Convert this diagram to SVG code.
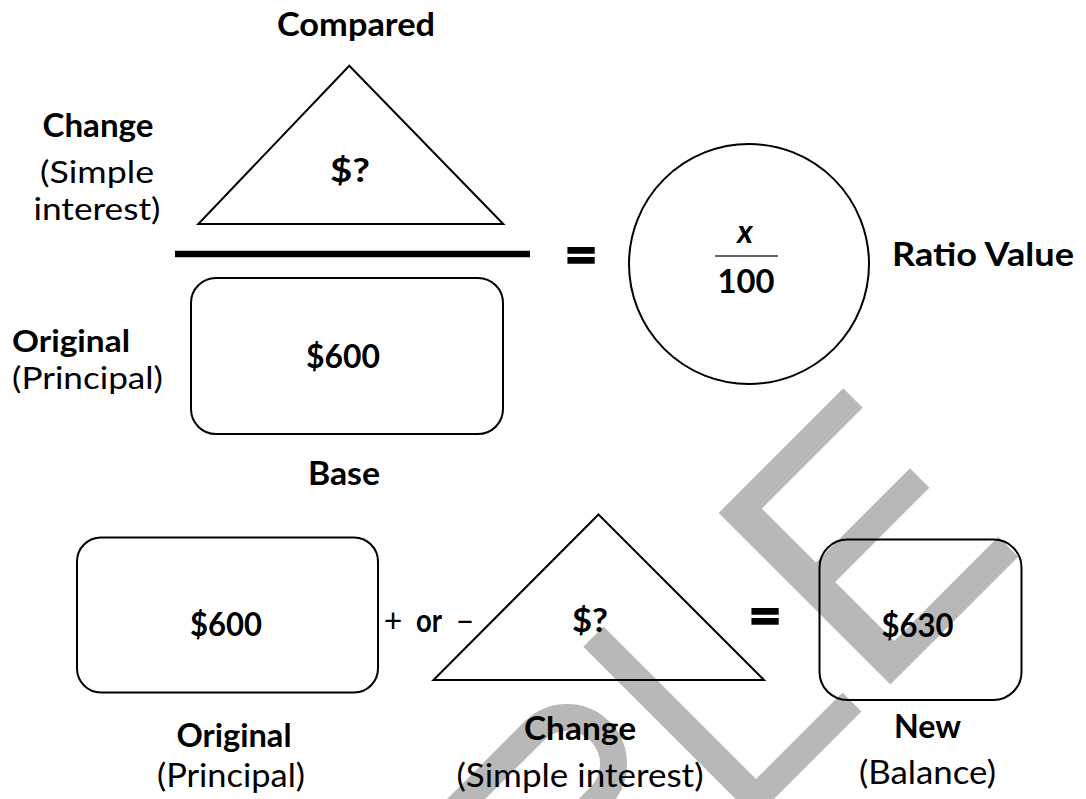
<svg xmlns="http://www.w3.org/2000/svg" width="1086" height="799" viewBox="0 0 1086 799">
<style>
.t{font-family:Lato,"Open Sans","Liberation Sans",sans-serif;font-size:32px;fill:#000;text-anchor:middle}
.s{font-size:30px}
.b{font-weight:bold}
.l{text-anchor:start}
.sh{fill:none;stroke:#000;stroke-width:2}
.wm{fill:#b8b8b8}
.eq{font-family:Lato,"Liberation Sans",sans-serif;font-weight:bold;font-size:58px;stroke:#000;stroke-width:1.6;text-anchor:middle}
</style>
<rect width="1086" height="799" fill="#fff"/>
<g id="watermark">
<polygon class="wm" points="843.3,388.3 862.7,407.7 761.9,508.6 815.8,562.5 910,468.3 929.3,487.7 835.2,581.9 894.2,640.9 998.3,536.7 1018.3,556.7 890.4,684.6 718.7,512.9"/>
<polygon class="wm" points="583.3,646.7 603.5,626.5 756,779 842.5,692.5 861.5,711.5 754.8,818.2"/>
<path d="M434.1,831.1 L534.1,731.1 A46.5,46.5 0 1 1 599.9,796.9 L499.9,896.9" fill="none" stroke="#b8b8b8" stroke-width="27"/>
</g>
<g id="top-compared">
<polygon class="sh" points="349.3,65.7 503.3,224 198.3,224"/>
<text class="t b" x="350" y="182" textLength="40" lengthAdjust="spacingAndGlyphs">$?</text>
<text class="t b" x="356" y="36" textLength="158" lengthAdjust="spacingAndGlyphs">Compared</text>
</g>
<g id="top-change-label">
<text class="t b" x="98" y="137" textLength="111" lengthAdjust="spacingAndGlyphs">Change</text>
<text class="t s" x="97" y="183" textLength="114" lengthAdjust="spacingAndGlyphs">(Simple</text>
<text class="t s" x="97" y="220" textLength="127" lengthAdjust="spacingAndGlyphs">interest)</text>
</g>
<g id="top-base">
<rect class="sh" x="191" y="278" width="312" height="156" rx="25"/>
<text class="t b" x="343" y="368" textLength="74" lengthAdjust="spacingAndGlyphs">$600</text>
<text class="t b" x="344" y="485" textLength="72" lengthAdjust="spacingAndGlyphs">Base</text>
</g>
<g id="top-original-label">
<text class="t b l s" x="12" y="352" textLength="118" lengthAdjust="spacingAndGlyphs">Original</text>
<text class="t l s" x="12" y="389" textLength="151" lengthAdjust="spacingAndGlyphs">(Principal)</text>
</g>
<g id="ratio">
<circle class="sh" cx="749" cy="264" r="120"/>
<text class="t b" x="745" y="243" font-style="italic" font-size="42">x</text>
<line x1="715" y1="256" x2="778" y2="256" stroke="#333" stroke-width="1.5"/>
<text class="t b" x="746" y="293" font-size="35" textLength="57" lengthAdjust="spacingAndGlyphs">100</text>
<text class="t b l" x="892" y="266" textLength="182" lengthAdjust="spacingAndGlyphs">Ratio Value</text>
</g>
<g id="connectors">
<line x1="175" y1="254" x2="530" y2="254" stroke="#000" stroke-width="6.5"/>
<text class="eq" x="581" y="275">=</text>
<text class="t" x="393" y="632" font-size="27">+</text>
<text class="t b" x="429" y="632" font-size="27" textLength="26" lengthAdjust="spacingAndGlyphs">or</text>
<text class="t" x="465" y="632" font-size="27" textLength="19" lengthAdjust="spacingAndGlyphs">–</text>
<text class="eq" x="765" y="636">=</text>
</g>
<g id="bottom-original">
<rect class="sh" x="77" y="537.5" width="301" height="155" rx="24"/>
<text class="t b" x="226" y="636" textLength="72" lengthAdjust="spacingAndGlyphs">$600</text>
<text class="t b" x="234" y="747" textLength="115" lengthAdjust="spacingAndGlyphs">Original</text>
<text class="t" x="231" y="787" textLength="148" lengthAdjust="spacingAndGlyphs">(Principal)</text>
</g>
<g id="bottom-change">
<polygon class="sh" points="598.5,514.5 764,680 433.5,680"/>
<text class="t b" x="590" y="632" textLength="36" lengthAdjust="spacingAndGlyphs">$?</text>
<text class="t b" x="580" y="740" textLength="112" lengthAdjust="spacingAndGlyphs">Change</text>
<text class="t" x="580" y="787" textLength="247" lengthAdjust="spacingAndGlyphs">(Simple interest)</text>
</g>
<g id="bottom-new">
<rect class="sh" x="819.5" y="539.5" width="202" height="160.5" rx="28"/>
<text class="t b" x="917.5" y="637" textLength="72" lengthAdjust="spacingAndGlyphs">$630</text>
<text class="t b" x="927.5" y="738" textLength="67" lengthAdjust="spacingAndGlyphs">New</text>
<text class="t" x="927.5" y="784" textLength="137" lengthAdjust="spacingAndGlyphs">(Balance)</text>
</g>
</svg>
